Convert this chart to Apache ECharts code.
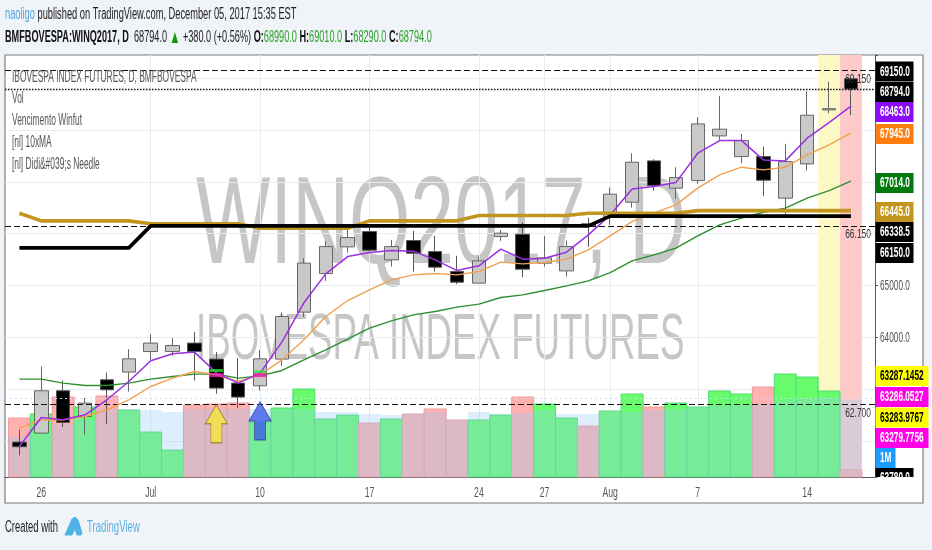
<!DOCTYPE html>
<html><head><meta charset="utf-8">
<style>html,body{margin:0;padding:0;background:#f0f3f8}#c{width:932px;height:550px}</style>
<script src="https://cdn.jsdelivr.net/npm/echarts@6/dist/echarts.min.js"></script>
</head><body><div id="c"></div>
<script>
const dates=['Jun 23','26','Jun 27','Jun 28','Jun 29','Jun 30','Jul','Jul 4','Jul 5','Jul 6','Jul 7','10','Jul 11','Jul 12','Jul 13','Jul 14','17','Jul 18','Jul 19','Jul 20','Jul 21','24','Jul 25','Jul 26','27','Jul 28','Jul 31','Aug','Aug 2','Aug 3','Aug 4','7','Aug 8','Aug 9','Aug 10','Aug 11','14','Aug 15','Aug 16'];
const xTickIndex=[1,6,11,16,21,24,27,31,36];
const opens=[61974,62148,62965,62468,63177,63326,63723,63723,63886,63577,63113,63061,63577,64484,65229,65745,66040,65494,65866,65654,65268,65044,65943,65990,65430,65281,66189,66324,66608,67405,66878,67025,67887,67488,67488,66685,67347,68389,68990];
const closes=[61884,62965,62353,62727,62984,63582,63886,63839,63723,63017,62843,63582,64399,65430,65750,65924,65681,65750,65623,65353,65063,65474,66009,65314,65532,65750,66150,66762,67380,66928,67082,68119,68017,67797,67032,67391,68287,68414,68794];
const lows=[61716,62148,62264,62115,62328,62951,63563,63640,63164,62907,62636,62970,63447,64393,65088,65635,65648,65364,65268,65268,65024,65044,65860,65160,65364,65171,65745,66169,66503,66831,66671,66961,67810,67360,66729,66362,67218,68326,68290];
const highs=[62212,63434,63164,62830,63318,63770,64059,63982,64098,63712,63596,63756,64476,65526,65860,66111,66150,65880,66053,65957,65571,65557,66073,66214,65957,65866,66304,66889,67553,67438,67283,68248,68660,67926,67681,67733,68743,68936,69010];
const purple=[61889,62449,62405,62501,62791,63144,63544,63679,63712,63312,63113,63306,63911,64664,65223,65557,65635,65673,65662,65494,65287,65378,65700,65507,65526,65642,65976,66362,66864,66909,66986,67553,67797,67797,67424,67405,67843,68144,68463];
const orange=[62245,62405,62405,62469,62598,62791,63048,63210,63337,63274,63144,63274,63563,63949,64399,64708,64914,65108,65204,65229,65204,65268,65449,65416,65442,65507,65687,65957,66233,66395,66555,66878,67135,67283,67231,67283,67521,67714,67945];
const green=[63191,63191,63113,63067,63067,63113,63191,63241,63287,63287,63210,63254,63357,63563,63756,63963,64175,64316,64432,64496,64581,64638,64766,64818,64901,64992,65088,65248,65474,65590,65719,65957,66169,66299,66414,66492,66685,66831,67014];
const gold=[66395,66247,66247,66247,66247,66247,66190,66190,66190,66190,66190,66105,66105,66105,66105,66105,66247,66247,66247,66247,66247,66349,66349,66349,66349,66349,66395,66395,66395,66395,66395,66445,66445,66445,66445,66445,66445,66445,66445];
const needle=[65725,65725,65725,65725,65725,65725,66150,66150,66150,66150,66150,66150,66150,66150,66150,66150,66150,66150,66150,66150,66150,66150,66150,66150,66150,66150,66150,66338.5,66338.5,66338.5,66338.5,66338.5,66338.5,66338.5,66338.5,66338.5,66338.5,66338.5,66338.5];
const volume=[59,63,80,70,81,67,45,27,72,73,74,55,69,88,58,62,54,58,63,68,57,57,62,80,73,59,51,66,83,70,74,70,86,83,90,103,100,86,7];
const volumeMA=[40,43,53,58,68,68,67,65,68,68,68,68,68,68,65,65,63,62,63,65,57,65,63,64,67,63,63,66,65,67,68,70,71,72,73,76,78,79,77];
const dashedLevels=[69150,66150,62700];
const dashedLabels=['69.150','66.150','62.700'];
const priceLabels=[65000,64000,62000];
const lastClose=68794;
const dottedLevel=62830;
const greenDashes=[[9,63357],[11,63331]];
const magentaDashes=[[9,63268],[11,63268]];
const yellowArrow=[[9,62328]];
const blueArrow=[[11,62385]];
const bands=[36.5,37.5,38.5];
const tagRows=[['69150.0','#000','#fff'],['68794.0','#000','#fff'],['68463.0','#8a0cf5','#fff'],['67945.0','#ff7d0f','#fff'],['67014.0','#007a0c','#fff'],['66445.0','#c2951c','#fff'],['66338.5','#000','#fff'],['66150.0','#000','#fff'],['63287.1452','#ffff00','#000'],['63286.0527','#ff00e6','#fff'],['63283.9767','#ffff00','#000'],['63279.7756','#ff00e6','#fff'],['1M','#1e9bff','#fff']];
const tagCentres=[71.5,92,112,134,183,212,232,253,376,397,417.5,438,458];
const legendLines=['IBOVESPA INDEX FUTURES, D, BMFBOVESPA','Vol','Vencimento Winfut','[nl] 10xMA','[nl] Didi&#039;s Needle'];
const legendCentres=[78,99,121,143,165];

const N='"Liberation Sans",Arial,sans-serif';
const PL=5,PT=55;
const isDown=i=>closes[i]<opens[i];
const vs=volume.map((v,i)=>({value:[i,v],itemStyle:{color:isDown(i)?'#ffb0b0':'#68fb6c',borderColor:isDown(i)?'#f09a9a':'#4fdc70'}}));
const ma=volumeMA.map((v,i)=>[i,v]);
function T(text,x,y,size,color,sx,extra){extra=extra||{};return Object.assign({type:'text',x:x,y:y,scaleX:sx||1,z:20,style:{text:text,fill:color,font:(extra.w||'normal')+' '+size+'px '+N,textVerticalAlign:'middle',textAlign:extra.a||'left'}},extra.o||{});}
const graphics=[
 {type:'rect',z:-10,shape:{x:5,y:55,width:918,height:448},style:{fill:'#fff',stroke:'#7d7d7d',lineWidth:1.2}},
 T('WINQ2017, D',196,229,125,'#c6c6c6',0.63,{o:{z:-5}}),
 T('IBOVESPA INDEX FUTURES',196,341,64,'#c6c6c6',0.573,{o:{z:-5}})
];
tagRows.forEach((r,i)=>{
 const wide=r[0].length>8, one=r[0]==='1M';
 const w=wide?53:(one?20:38);
 graphics.push({type:'rect',z:15,shape:{x:875.5,y:tagCentres[i]-10,width:w,height:20},style:{fill:r[1]}});
 graphics.push(T(r[0],880,tagCentres[i]+0.5,14,r[2],0.59,{w:'bold',o:{z:16}}));
});
graphics.push({type:'rect',z:15,shape:{x:875.5,y:468,width:38,height:9},style:{fill:'#000'}});
graphics.push(T('63780.0',880,478,14,'#fff',0.59,{w:'bold',o:{z:16}}));
graphics.push({type:'rect',z:17,shape:{x:876,y:477.5,width:45,height:24},style:{fill:'#fff'}});
legendLines.forEach((t,i)=>graphics.push(T(t,12,legendCentres[i],16,'#555',0.525)));
graphics.push({type:'text',x:5,y:15,z:20,scaleX:0.58,style:{textVerticalAlign:'middle',font:'16px '+N,fill:'#222',
 text:'{a|naoligo} published on TradingView.com, December 05, 2017 15:35 EST',rich:{a:{fill:'#4fa8e0',font:'16px '+N}}}});
graphics.push({type:'text',x:5,y:38,z:20,scaleX:0.572,style:{textVerticalAlign:'middle',font:'16px '+N,fill:'#222',
 text:'{b|BMFBOVESPA:WINQ2017, D}  68794.0 {u|▲} +380.0 (+0.56%) {b|O:}{g|68990.0} {b|H:}{g|69010.0} {b|L:}{g|68290.0} {b|C:}{g|68794.0}',
 rich:{b:{fill:'#111',font:'bold 16px '+N},g:{fill:'#2ca02c',font:'16px '+N},u:{fill:'#109a10',font:'19px '+N}}}});
graphics.push(T('Created with',5,528,16,'#222',0.59));
graphics.push({type:'polygon',z:20,shape:{points:[[65,535],[72,519],[75,517],[78,520],[82,533],[81,535],[77,535],[75,529],[72,535]]},style:{fill:'#4fb3e6',stroke:'#4fb3e6',lineJoin:'round'}});
graphics.push(T('TradingView',87,528,16,'#5ab4e4',0.6));

const line=(name,data,color,width,z)=>({name,type:'line',data:data.map((v,i)=>[i,v]),symbol:'none',lineStyle:{color,width},z,silent:true,animation:false});
const hline=(v,type,width)=>({yAxis:v,lineStyle:{type,color:'#111',width},label:{show:false}});
const opt={
 backgroundColor:'#f0f3f8',animation:false,
 grid:{left:PL,top:PT,width:870,height:422},
 xAxis:{type:'value',min:-0.658,max:39.1,
  axisLine:{show:true,onZero:false,lineStyle:{color:'#555',width:1}},
  axisTick:{show:false,customValues:xTickIndex},
  splitLine:{show:true,showMinLine:false,showMaxLine:false,lineStyle:{color:'#e6ecf2'}},
  axisLabel:{show:false}},
 yAxis:[
  {type:'value',position:'right',min:61300,max:69450,splitNumber:8,
   axisLine:{show:true,onZero:false,lineStyle:{color:'#555'}},axisTick:{show:true,length:3,lineStyle:{color:'#555'}},
   splitLine:{show:true,showMinLine:false,showMaxLine:false,lineStyle:{color:'#e6ecf2'}},
   axisLabel:{show:false}},
  {type:'value',min:0,max:422,show:false,splitLine:{show:false}}],
 graphic:{elements:graphics},
 series:[
  {name:'Vol',type:'bar',xAxisIndex:0,yAxisIndex:1,barWidth:22,barGap:'-100%',z:2,data:vs,
   markArea:{silent:true,z:1,data:[
     [{xAxis:bands[0],itemStyle:{color:'#fdf9c6'}},{xAxis:bands[1]}],
     [{xAxis:bands[1],itemStyle:{color:'#fdc9c9'}},{xAxis:bands[2]}]]}},
  {name:'VolMA',type:'bar',xAxisIndex:0,yAxisIndex:1,barWidth:22,barGap:'-100%',z:3,data:ma,itemStyle:{color:'rgba(150,205,245,0.32)'}},
  {name:'candles',type:'candlestick',yAxisIndex:0,z:4,barWidth:14,
   data:opens.map((o,i)=>[i,o,closes[i],lows[i],highs[i]]),
   encode:{x:0,y:[1,2,3,4]},
   itemStyle:{color:'#c9c9c9',borderColor:'#666',color0:'#000',borderColor0:'#555',borderWidth:1},
   markLine:{silent:true,symbol:'none',animation:false,data:[
     hline(dashedLevels[0],[6,3],1.2),
     hline(dashedLevels[1],[6,3],1.2),
     hline(dashedLevels[2],[6,3],1.2),
     hline(lastClose,[1.5,1.5],1.4),
     {yAxis:dottedLevel,lineStyle:{type:[2,3],color:'#bfe0f5',width:1.2},label:{show:false}}]}},
  line('green',green,'#2f8f2f',1.4,5),
  line('orange',orange,'#f0a050',1.4,6),
  line('purple',purple,'#9a30e0',1.5,7),
  line('gold',gold,'#c2951c',3.6,8),
  line('needle',needle,'#000',3.6,9),
  {name:'gd',type:'scatter',data:greenDashes,symbol:'rect',symbolSize:[13,3],itemStyle:{color:'#2fe02f'},z:10,silent:true},
  {name:'md',type:'scatter',data:magentaDashes,symbol:'rect',symbolSize:[13,4],itemStyle:{color:'#f01fb0'},z:10,silent:true},
  {name:'ya',type:'scatter',data:yellowArrow,symbol:'path://M11 0L22 19L16.5 19L16.5 38L5.5 38L5.5 19L0 19Z',symbolSize:[22,38],itemStyle:{color:'#f6e63c',borderColor:'#9a7f1c',borderWidth:1},z:11,silent:true},
  {name:'ba',type:'scatter',data:blueArrow,symbol:'path://M11 0L22 19L16.5 19L16.5 38L5.5 38L5.5 19L0 19Z',symbolSize:[22,38],itemStyle:{color:'#3f5ce8',borderColor:'#2a3a9a',borderWidth:1},z:11,silent:true}
 ]};
const chart=echarts.init(document.getElementById('c'),null,{renderer:'canvas'});
chart.setOption(opt);
const extra=[];
xTickIndex.forEach(i=>{extra.push(T(dates[i],chart.convertToPixel({xAxisIndex:0},i),493,14,'#555',0.62,{a:'center'}));});
priceLabels.forEach(p=>{extra.push(T(p.toFixed(1),880,chart.convertToPixel({yAxisIndex:0},p)+0.5,14,'#555',0.59,{o:{z:14}}));});
dashedLevels.forEach((p,i)=>{extra.push(T(dashedLabels[i],871,chart.convertToPixel({yAxisIndex:0},p)+9,13,'#333',0.65,{a:'right'}));});
chart.setOption({graphic:{elements:graphics.concat(extra)}});
</script></body></html>
